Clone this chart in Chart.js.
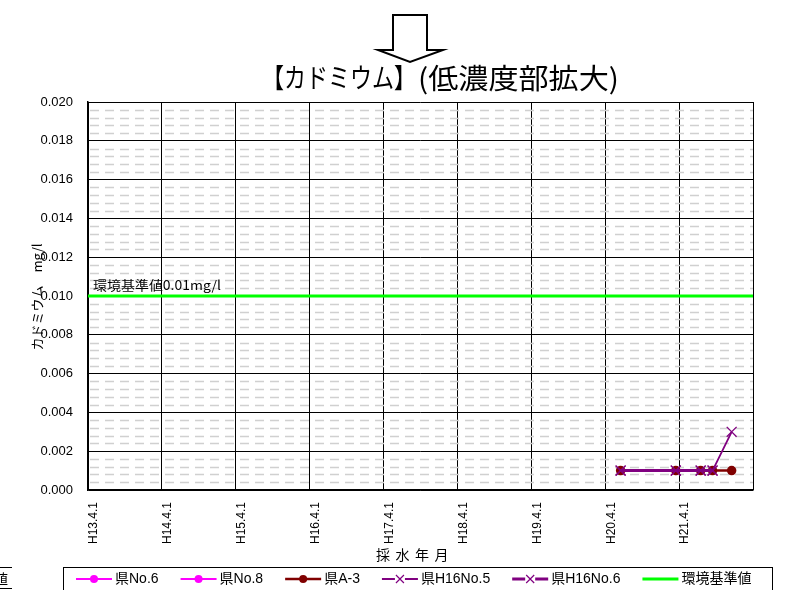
<!DOCTYPE html>
<html lang="ja">
<head>
<meta charset="utf-8">
<title>カドミウム（低濃度部拡大）</title>
<script src="https://cdn.jsdelivr.net/npm/chart.js@4.4.1/dist/chart.umd.min.js"></script>
<style>
  html, body { margin: 0; padding: 0; background: #fff; }
  #wrap { width: 786px; height: 590px; position: relative; overflow: hidden; }
</style>
</head>
<body>
<div id="wrap"><canvas id="cdChart" width="786" height="590"></canvas></div>
<script>
// Sampling dates (Heisei year.month.day)
const sampleDates = ["H20.6.16", "H21.3.15", "H21.7.16", "H21.9.14", "H21.12.17"];

// Measured cadmium (mg/l) per well, aligned with sampleDates
const kenNo6 = [];
const kenNo8 = [];
const kenA3 = [0.001, 0.001, 0.001, 0.001, 0.001];
const kenH16No5 = [0.001, 0.001, 0.001, 0.001, 0.003];
const kenH16No6 = [0.001, 0.001, 0.001, 0.001];

// Environmental standard
const standardValue = 0.01;

const seriesNames = ["県No.6", "県No.8", "県A-3", "県H16No.5", "県H16No.6", "環境基準値"];
const yearTicks = ["H13.4.1", "H14.4.1", "H15.4.1", "H16.4.1", "H17.4.1", "H18.4.1", "H19.4.1", "H20.4.1", "H21.4.1"];

const LATIN = '"Liberation Sans", Arial, "Noto Sans CJK JP", sans-serif';
const CJK = '"Noto Sans CJK JP", "Liberation Sans", sans-serif';

// "H20.6.16" -> years since H13.4.1
function toAxisYears(label) {
  const [h, m, d] = label.slice(1).split(".").map(Number);
  return (h - 13) + ((m - 4) + (d - 1) / 30) / 12;
}

function toPoints(values) {
  return values.map((v, i) => ({ x: toAxisYears(sampleDates[i]), y: v }));
}

// draw text squeezed/stretched to a given width
function fitText(ctx, text, x, y, width) {
  const w = ctx.measureText(text).width;
  ctx.save();
  ctx.translate(x, y);
  ctx.scale(width / w, 1);
  ctx.fillText(text, 0, 0);
  ctx.restore();
}

// dashed minor grid every 0.0004
const minorGrid = {
  id: "minorGrid",
  beforeDatasetsDraw(chart) {
    const { ctx, chartArea, scales } = chart;
    ctx.save();
    ctx.strokeStyle = "#d0d0d0";
    ctx.lineWidth = 1.5;
    ctx.setLineDash([9, 6]);
    for (let k = 1; k < 50; k++) {
      if (k % 5 === 0) continue;
      const y = Math.round(scales.y.getPixelForValue(k * 0.0004)) + 0.5;
      ctx.beginPath();
      ctx.moveTo(chartArea.left + 2, y);
      ctx.lineTo(chartArea.right, y);
      ctx.stroke();
    }
    ctx.restore();
  },
};

// title, arrow, axis titles, standard label and legend box
const decorations = {
  id: "decorations",
  afterDraw(chart) {
    const { ctx, chartArea, scales } = chart;
    ctx.save();
    ctx.fillStyle = "#000";
    ctx.strokeStyle = "#000";

    // down arrow above the title
    ctx.lineWidth = 2;
    ctx.beginPath();
    ctx.moveTo(393, 15);
    ctx.lineTo(427, 15);
    ctx.lineTo(427, 50);
    ctx.lineTo(443, 50);
    ctx.lineTo(410, 62);
    ctx.lineTo(378, 50);
    ctx.lineTo(393, 50);
    ctx.closePath();
    ctx.stroke();

    // title
    ctx.textBaseline = "middle";
    ctx.textAlign = "left";
    ctx.font = "27px " + CJK;
    fitText(ctx, "【カドミウム】", 262, 78, 154);
    ctx.font = "28px " + CJK;
    fitText(ctx, "(低濃度部拡大)", 418, 78, 201);

    // y axis title
    ctx.save();
    ctx.translate(37, 297);
    ctx.rotate(-Math.PI / 2);
    ctx.textAlign = "center";
    ctx.font = "13px " + CJK;
    ctx.fillText("カドミウム　mg/l", 0, 0);
    ctx.restore();

    // x axis title, letter spaced
    ctx.textAlign = "center";
    ctx.font = "14px " + CJK;
    ["採", "水", "年", "月"].forEach((ch, i) => ctx.fillText(ch, 383 + i * 19.5, 555));

    // standard line label
    ctx.textAlign = "left";
    ctx.font = "13px " + CJK;
    const ys = scales.y.getPixelForValue(standardValue);
    fitText(ctx, "環境基準値0.01mg/l", chartArea.left + 5, ys - 11, 128);

    // legend
    ctx.lineWidth = 1;
    ctx.strokeRect(63.5, 567.5, 709, 30);
    ctx.font = "14px " + LATIN;
    let x = 76;
    const ly = 579;
    chart.data.datasets.forEach((ds) => {
      ctx.save();
      ctx.strokeStyle = ds.borderColor;
      ctx.lineWidth = ds.borderWidth;
      ctx.beginPath();
      ctx.moveTo(x, ly);
      ctx.lineTo(x + 36, ly);
      ctx.stroke();
      if (ds.pointRadius > 0) {
        const mx = x + 18;
        if (ds.pointStyle === "circle") {
          ctx.fillStyle = ds.pointBackgroundColor;
          ctx.beginPath();
          ctx.arc(mx, ly, 4, 0, Math.PI * 2);
          ctx.fill();
        } else {
          ctx.fillStyle = "#fff";
          ctx.fillRect(mx - 5, ly - 4, 10, 8);
          ctx.lineWidth = 1.2;
          ctx.beginPath();
          ctx.moveTo(mx - 4, ly - 4);
          ctx.lineTo(mx + 4, ly + 4);
          ctx.moveTo(mx + 4, ly - 4);
          ctx.lineTo(mx - 4, ly + 4);
          ctx.stroke();
        }
      }
      ctx.restore();
      ctx.fillText(ds.label, x + 39, ly);
      x += 39 + ctx.measureText(ds.label).width + 22;
    });

    // edge of the neighbouring chart's legend
    ctx.beginPath();
    ctx.moveTo(0, 567.5);
    ctx.lineTo(12, 567.5);
    ctx.moveTo(0, 588.5);
    ctx.lineTo(12, 588.5);
    ctx.stroke();
    ctx.font = "14px " + CJK;
    ctx.fillText("値", -6, 579);

    ctx.restore();
  },
};

const magenta = "#ff00ff";
const darkRed = "#800000";
const purple = "#800080";
const green = "#00ff00";

new Chart(document.getElementById("cdChart"), {
  type: "line",
  data: {
    datasets: [
      {
        label: seriesNames[0], data: toPoints(kenNo6), order: 5,
        borderColor: magenta, backgroundColor: magenta, borderWidth: 2,
        pointStyle: "circle", pointRadius: 3.5, pointBackgroundColor: magenta, pointBorderColor: magenta,
      },
      {
        label: seriesNames[1], data: toPoints(kenNo8), order: 4,
        borderColor: magenta, backgroundColor: magenta, borderWidth: 2,
        pointStyle: "circle", pointRadius: 3.5, pointBackgroundColor: magenta, pointBorderColor: magenta,
      },
      {
        label: seriesNames[2], data: toPoints(kenA3), order: 3,
        borderColor: darkRed, backgroundColor: darkRed, borderWidth: 2.5,
        pointStyle: "circle", pointRadius: 3.5, pointBackgroundColor: darkRed, pointBorderColor: darkRed,
      },
      {
        label: seriesNames[3], data: toPoints(kenH16No5), order: 2,
        borderColor: purple, backgroundColor: purple, borderWidth: 1.8,
        pointStyle: "crossRot", pointRadius: 7, pointBorderColor: purple, pointBorderWidth: 1.3,
      },
      {
        label: seriesNames[4], data: toPoints(kenH16No6), order: 1,
        borderColor: purple, backgroundColor: purple, borderWidth: 3,
        pointStyle: "crossRot", pointRadius: 7, pointBorderColor: purple, pointBorderWidth: 1.3,
      },
      {
        label: seriesNames[5], data: [{ x: 0, y: standardValue }, { x: 9, y: standardValue }], order: 6,
        borderColor: green, backgroundColor: green, borderWidth: 3, pointRadius: 0,
      },
    ],
  },
  options: {
    responsive: false,
    animation: false,
    devicePixelRatio: 1,
    layout: { padding: { top: 102, right: 33, left: 0, bottom: 0 } },
    scales: {
      x: {
        type: "linear",
        min: 0,
        max: 9,
        afterFit: (scale) => { scale.height = 100; },
        grid: { color: "#000", lineWidth: 1, drawTicks: false },
        border: { color: "#000", width: 1.5 },
        ticks: {
          stepSize: 1,
          autoSkip: false,
          minRotation: 90,
          maxRotation: 90,
          padding: 12,
          labelOffset: 6,
          color: "#000",
          font: { family: LATIN, size: 12 },
          callback: (v) => (Number.isInteger(v) && yearTicks[v]) || "",
        },
      },
      y: {
        min: 0,
        max: 0.02,
        afterFit: (scale) => { scale.width = 88; },
        grid: { color: "#000", lineWidth: 1, drawTicks: false },
        border: { color: "#000", width: 1.5 },
        ticks: {
          stepSize: 0.002,
          padding: 15,
          color: "#000",
          font: { family: LATIN, size: 13 },
          callback: (v) => v.toFixed(3),
        },
      },
    },
    plugins: {
      legend: { display: false },
      tooltip: { enabled: false },
    },
  },
  plugins: [minorGrid, decorations],
});
</script>
</body>
</html>
